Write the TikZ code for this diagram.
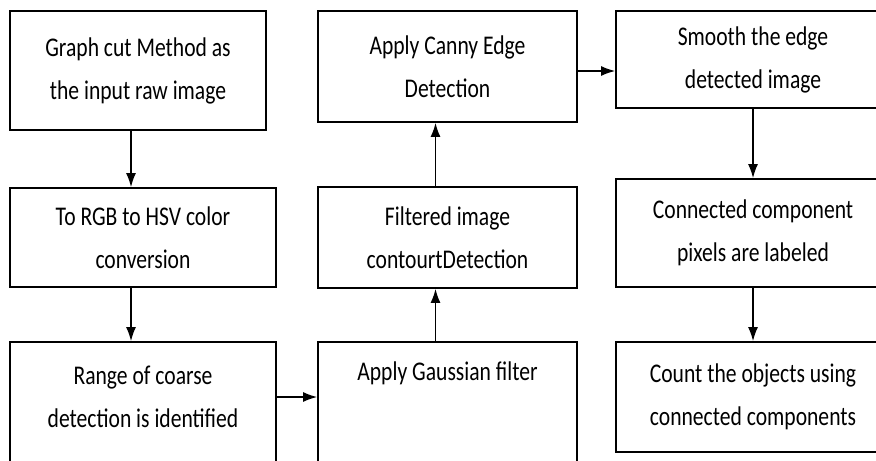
\documentclass[tikz,border=0pt]{standalone}
\usepackage{fontspec}
\setmainfont{Carlito}[FakeStretch=0.8]
\usetikzlibrary{arrows.meta}

\tikzset{
  box/.style = {draw, line width = 0.9pt, align = center, inner sep = 0pt,
                font = \fontsize{13.5}{21.5}\selectfont},
  arr/.style = {line width = 0.7pt, -{Latex[length = 7pt, width = 5pt]}}
}

\begin{document}
\begin{tikzpicture}[x = 0.5pt, y = -0.5pt]
	 \useasboundingbox (0, 0) rectangle (876, 460);

	 % left column
	 \node[box, minimum width = 128pt, minimum height = 59.5pt] (graph) at (138, 70.5) {Graph cut Method as\\the input raw image};
	 \node[box, minimum width = 133pt, minimum height = 49.5pt] (rgb) at (143, 237.5) {To RGB to HSV color\\conversion};
	 \node[box, minimum width = 133pt, minimum height = 78pt] (range) at (143, 420) {};
	 \node[box, draw = none] (rangetxt) at (143, 397) {Range of coarse\\detection is identified};

	 % middle column
	 \node[box, minimum width = 129.5pt, minimum height = 55.5pt] (canny) at (447.5, 66.5) {Apply Canny Edge\\Detection};
	 \node[box, minimum width = 129.5pt, minimum height = 50.5pt] (filtered) at (447.5, 237.5) {Filtered image\\contourtDetection};
	 \node[box, minimum width = 129.5pt, minimum height = 78pt] (gauss) at (447.5, 420) {};
	 \node[box, draw = none] (gausstxt) at (447.5, 373) {Apply Gaussian filter};

	 % right column
	 \node[box, minimum width = 137pt, minimum height = 48.5pt] (smooth) at (753, 59.5) {Smooth the edge\\detected image};
	 \node[box, minimum width = 137pt, minimum height = 54pt] (connected) at (753, 233) {Connected component\\pixels are labeled};
	 \node[box, minimum width = 137pt, minimum height = 55pt] (count) at (753, 397) {Count the objects using\\connected components};

	 \coordinate (lx) at (131, 0);
	 \coordinate (mx) at (435.5, 0);
	 \coordinate (cy) at (0, 71);

	 \draw[arr] (graph.south -| lx) -- (rgb.north -| lx);
	 \draw[arr] (rgb.south -| lx) -- (range.north -| lx);
	 \draw[arr] (range.east |- rangetxt) -- (gauss.west |- rangetxt);
	 \draw[arr] (gauss.north -| mx) -- (filtered.south -| mx);
	 \draw[arr] (filtered.north -| mx) -- (canny.south -| mx);
	 \draw[arr] (canny.east |- cy) -- (smooth.west |- cy);
	 \draw[arr] (smooth) -- (connected);
	 \draw[arr] (connected) -- (count);
\end{tikzpicture}
\end{document}
